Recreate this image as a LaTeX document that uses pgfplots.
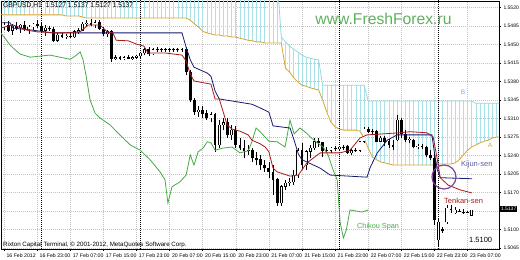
\documentclass[border=0pt]{standalone}
\usepackage{pgfplots}
\pgfplotsset{compat=1.18}
\usepackage{pgfplotstable}
\usepackage{fontspec}
\setmainfont{Liberation Sans}
\definecolor{tenkan}{RGB}{170,25,25}
\definecolor{kijun}{RGB}{25,25,110}
\definecolor{spanA}{RGB}{215,165,45}
\definecolor{spanB}{RGB}{150,215,225}
\definecolor{hatch}{RGB}{170,225,232}
\definecolor{chikou}{RGB}{70,170,70}
\definecolor{gridc}{RGB}{195,195,195}
\definecolor{ffgreen}{RGB}{95,175,95}
\definecolor{circ}{RGB}{125,65,155}

\pgfplotstableread{
i A B
-1 1.5508 1.5572
0 1.5506 1.5572
1 1.5506 1.5572
2 1.5506 1.5572
3 1.5506 1.5572
4 1.5506 1.5572
5 1.5506 1.5572
6 1.5506 1.5572
7 1.5506 1.5572
8 1.5506 1.5572
9 1.5506 1.5572
10 1.5506 1.5572
11 1.5506 1.5572
12 1.5506 1.5572
13 1.5506 1.5572
14 1.5506 1.5572
15 1.5504 1.5572
16 1.5504 1.5572
17 1.5504 1.5572
18 1.5504 1.5572
19 1.5502 1.5572
20 1.5500 1.5572
21 1.5500 1.5572
22 1.5500 1.5572
23 1.5500 1.5572
24 1.5500 1.5572
25 1.5500 1.5572
26 1.5500 1.5572
27 1.5500 1.5572
28 1.5500 1.5572
29 1.5500 1.5572
30 1.5500 1.5572
31 1.5500 1.5572
32 1.5500 1.5572
33 1.5500 1.5572
34 1.5500 1.5572
35 1.5500 1.5572
36 1.5500 1.5572
37 1.5500 1.5572
38 1.5500 1.5572
39 1.5500 1.5572
40 1.5500 1.5572
41 1.5500 1.5572
42 1.5500 1.5572
43 1.5500 1.5572
44 1.5500 1.5572
45 1.5496 1.5572
46 1.5489 1.5572
47 1.5483 1.5572
48 1.5475 1.5572
49 1.5472 1.5572
50 1.5470 1.5572
51 1.5468 1.5572
52 1.5468 1.5572
53 1.5466 1.5572
54 1.5466 1.5572
55 1.5464 1.5572
56 1.5464 1.5572
57 1.5462 1.5572
58 1.5460 1.5572
59 1.5458 1.5572
60 1.5457 1.5572
61 1.5455 1.5572
62 1.5455 1.5572
63 1.5453 1.5572
64 1.5453 1.5572
65 1.5453 1.5572
66 1.5453 1.5572
67 1.5453 1.5464
68 1.5405 1.5455
69 1.5398 1.5447
70 1.5387 1.5441
71 1.5379 1.5436
72 1.5373 1.5430
73 1.5371 1.5426
74 1.5368 1.5424
75 1.5366 1.5422
76 1.5364 1.5421
77 1.5345 1.5373
78 1.5322 1.5373
79 1.5303 1.5373
80 1.5294 1.5373
81 1.5290 1.5373
82 1.5288 1.5373
83 1.5288 1.5373
84 1.5288 1.5373
85 1.5288 1.5373
86 1.5286 1.5373
87 1.5273 1.5373
88 1.5254 1.5343
89 1.5237 1.5343
90 1.5232 1.5343
91 1.5228 1.5343
92 1.5226 1.5343
93 1.5224 1.5343
94 1.5222 1.5343
95 1.5222 1.5343
96 1.5222 1.5343
97 1.5222 1.5343
98 1.5222 1.5343
99 1.5222 1.5343
100 1.5222 1.5343
101 1.5222 1.5343
102 1.5222 1.5343
103 1.5222 1.5343
104 1.5222 1.5343
105 1.5224 1.5343
106 1.5224 1.5343
107 1.5224 1.5343
108 1.5224 1.5343
109 1.5226 1.5343
110 1.5232 1.5343
111 1.5241 1.5343
112 1.5250 1.5343
113 1.5256 1.5343
114 1.5260 1.5339
115 1.5264 1.5339
116 1.5267 1.5339
117 1.5269 1.5339
118 1.5273 1.5339
119 1.5275 1.5339
120 1.5275 1.5339
}\cloud

\pgfplotstableread{
i o h l c
0 1.5483 1.5492 1.5477 1.5487
1 1.5487 1.5494 1.5474 1.5477
2 1.5477 1.5489 1.5468 1.5485
3 1.5485 1.5492 1.5477 1.5481
4 1.5481 1.5489 1.5472 1.5487
5 1.5487 1.5494 1.5475 1.5479
6 1.5479 1.5487 1.5470 1.5483
7 1.5483 1.5491 1.5477 1.5489
8 1.5489 1.5496 1.5481 1.5485
9 1.5485 1.5492 1.5474 1.5477
10 1.5477 1.5487 1.5466 1.5481
11 1.5481 1.5485 1.5475 1.5479
12 1.5479 1.5483 1.5455 1.5458
13 1.5458 1.5472 1.5455 1.5468
14 1.5468 1.5472 1.5462 1.5464
15 1.5464 1.5470 1.5460 1.5466
16 1.5466 1.5472 1.5462 1.5464
17 1.5464 1.5477 1.5462 1.5474
18 1.5474 1.5481 1.5470 1.5477
19 1.5477 1.5492 1.5475 1.5489
20 1.5489 1.5496 1.5483 1.5491
21 1.5491 1.5498 1.5485 1.5487
22 1.5487 1.5496 1.5481 1.5492
23 1.5492 1.5496 1.5477 1.5479
24 1.5479 1.5483 1.5466 1.5470
25 1.5470 1.5477 1.5464 1.5474
26 1.5474 1.5477 1.5417 1.5424
27 1.5424 1.5430 1.5421 1.5426
28 1.5426 1.5428 1.5421 1.5424
29 1.5424 1.5428 1.5421 1.5426
30 1.5426 1.5430 1.5422 1.5424
31 1.5424 1.5428 1.5421 1.5426
32 1.5426 1.5430 1.5422 1.5428
33 1.5428 1.5436 1.5424 1.5434
34 1.5434 1.5443 1.5430 1.5440
35 1.5440 1.5445 1.5428 1.5432
36 1.5432 1.5443 1.5430 1.5441
37 1.5441 1.5445 1.5436 1.5440
38 1.5440 1.5443 1.5436 1.5440
39 1.5440 1.5443 1.5436 1.5440
40 1.5440 1.5443 1.5436 1.5440
41 1.5440 1.5443 1.5436 1.5440
42 1.5440 1.5443 1.5436 1.5440
43 1.5440 1.5443 1.5436 1.5440
44 1.5440 1.5445 1.5392 1.5398
45 1.5398 1.5402 1.5341 1.5345
46 1.5345 1.5349 1.5317 1.5322
47 1.5322 1.5334 1.5313 1.5326
48 1.5326 1.5334 1.5311 1.5319
49 1.5319 1.5326 1.5307 1.5311
50 1.5311 1.5322 1.5303 1.5317
51 1.5317 1.5320 1.5247 1.5260
52 1.5260 1.5307 1.5254 1.5298
53 1.5298 1.5311 1.5288 1.5303
54 1.5303 1.5311 1.5273 1.5279
55 1.5279 1.5298 1.5269 1.5288
56 1.5288 1.5296 1.5254 1.5260
57 1.5260 1.5273 1.5250 1.5254
58 1.5254 1.5269 1.5235 1.5250
59 1.5250 1.5260 1.5241 1.5249
60 1.5249 1.5254 1.5228 1.5235
61 1.5235 1.5247 1.5222 1.5232
62 1.5232 1.5241 1.5213 1.5222
63 1.5222 1.5232 1.5209 1.5216
64 1.5216 1.5228 1.5198 1.5209
65 1.5209 1.5222 1.5166 1.5194
66 1.5194 1.5198 1.5145 1.5150
67 1.5150 1.5184 1.5145 1.5181
68 1.5181 1.5194 1.5175 1.5188
69 1.5188 1.5198 1.5182 1.5190
70 1.5190 1.5213 1.5184 1.5203
71 1.5203 1.5254 1.5198 1.5250
72 1.5250 1.5264 1.5213 1.5222
73 1.5222 1.5250 1.5213 1.5247
74 1.5247 1.5260 1.5235 1.5254
75 1.5254 1.5273 1.5250 1.5266
76 1.5266 1.5273 1.5256 1.5264
77 1.5264 1.5266 1.5237 1.5250
78 1.5250 1.5256 1.5245 1.5250
79 1.5249 1.5256 1.5245 1.5254
80 1.5254 1.5258 1.5249 1.5252
81 1.5252 1.5258 1.5249 1.5256
82 1.5256 1.5260 1.5250 1.5254
83 1.5258 1.5260 1.5243 1.5245
84 1.5245 1.5254 1.5241 1.5250
85 1.5250 1.5254 1.5247 1.5249
86 1.5250 1.5267 1.5247 1.5266
87 1.5266 1.5294 1.5264 1.5290
88 1.5290 1.5294 1.5283 1.5285
89 1.5285 1.5290 1.5281 1.5286
90 1.5286 1.5288 1.5266 1.5267
91 1.5267 1.5277 1.5267 1.5273
92 1.5273 1.5277 1.5258 1.5266
93 1.5266 1.5271 1.5254 1.5260
94 1.5260 1.5269 1.5250 1.5256
95 1.5269 1.5317 1.5267 1.5307
96 1.5307 1.5311 1.5273 1.5281
97 1.5281 1.5288 1.5266 1.5269
98 1.5269 1.5275 1.5264 1.5271
99 1.5269 1.5271 1.5254 1.5256
100 1.5256 1.5262 1.5252 1.5258
101 1.5258 1.5262 1.5252 1.5256
102 1.5256 1.5258 1.5237 1.5241
103 1.5241 1.5250 1.5232 1.5235
104 1.5235 1.5247 1.5109 1.5118
105 1.5080 1.5120 1.5067 1.5114
106 1.5101 1.5105 1.5094 1.5097
107 1.5114 1.5147 1.5111 1.5141
108 1.5139 1.5147 1.5131 1.5137
109 1.5131 1.5143 1.5130 1.5137
110 1.5135 1.5139 1.5133 1.5135
111 1.5133 1.5139 1.5130 1.5133
112 1.5133 1.5135 1.5131 1.5133
113 1.5127 1.5137 1.5127 1.5137
}\candles

\begin{document}
\begin{tikzpicture}[x=1pt,y=1pt]
\useasboundingbox (0,0) rectangle (520,260);
\begin{axis}[
  at={(1pt,11pt)}, anchor=south west,
  scale only axis, width=498pt, height=248pt,
  xmin=-0.73, xmax=119.6, ymin=1.50631, ymax=1.55323,
  axis line style={black, line width=0.6pt},
  clip=true, no markers,
  xtick={0,8,...,112},
  xticklabels={16 Feb 2012,16 Feb 23:00,17 Feb 07:00,17 Feb 15:00,17 Feb 23:00,20 Feb 07:00,20 Feb 15:00,20 Feb 23:00,21 Feb 07:00,21 Feb 15:00,21 Feb 23:00,22 Feb 07:00,22 Feb 15:00,22 Feb 23:00,23 Feb 07:00},
  ytick={1.5065,1.5100,1.5135,1.5170,1.5205,1.5240,1.5275,1.5310,1.5345,1.5380,1.5415,1.5450,1.5485,1.5520},
  yticklabels={1.5065,1.5100,{},1.5170,1.5205,1.5240,1.5275,1.5310,1.5345,1.5380,1.5415,1.5450,1.5485,1.5520},
  xtick pos=bottom, ytick pos=right, yticklabel pos=right,
  tick align=outside, major tick length=2pt,
  tick style={black, line width=0.4pt},
  xticklabel style={anchor=north west, xshift=-1pt, yshift=0.5pt, font=\fontsize{5.2}{5.2}\selectfont},
  yticklabel style={anchor=west, xshift=-1pt, font=\fontsize{5}{5}\selectfont},
  grid=major,
  major grid style={gridc, dash pattern=on 0.8pt off 1.2pt, line width=0.4pt},
]
% cloud hatch
\addplot[draw=none, mark=none, forget plot,
  error bars/.cd, y dir=plus, y explicit, error mark=none,
  error bar style={draw=hatch, line width=0.6pt}]
  table[x=i, y=A, y error plus expr=\thisrow{B}-\thisrow{A}] {\cloud};
\addplot[spanA, line width=0.8pt] table[x=i, y=A] {\cloud};
\addplot[spanB, line width=0.8pt] table[x=i, y=B] {\cloud};
% separators
\addplot[black, dash pattern=on 0.8pt off 1.2pt, line width=0.5pt] coordinates {(9,1.50) (9,1.56)};
\addplot[black, dash pattern=on 0.8pt off 1.2pt, line width=0.5pt] coordinates {(33,1.50) (33,1.56)};
\addplot[black, dash pattern=on 0.8pt off 1.2pt, line width=0.5pt] coordinates {(81,1.50) (81,1.56)};
\addplot[black, dash pattern=on 0.8pt off 1.2pt, line width=0.5pt] coordinates {(105,1.50) (105,1.56)};
% candles: wicks
\addplot[draw=none, mark=none, forget plot,
  error bars/.cd, y dir=plus, y explicit, error mark=none,
  error bar style={draw=black, line width=0.7pt}]
  table[x=i, y=l, y error plus expr=\thisrow{h}-\thisrow{l}] {\candles};
% bodies (black outline)
\addplot[draw=none, mark=none, forget plot,
  error bars/.cd, y dir=plus, y explicit, error mark=none,
  error bar style={draw=black, line width=2.8pt}]
  table[x=i, y expr={min(\thisrow{o},\thisrow{c})-0.00006}, y error plus expr={abs(\thisrow{o}-\thisrow{c})+0.00012}] {\candles};
% white interior of bullish candles
\addplot[draw=none, mark=none, forget plot,
  error bars/.cd, y dir=plus, y explicit, error mark=none,
  error bar style={draw=white, line width=1.3pt}]
  table[x=i, y expr={\thisrow{o}+0.00006}, y error plus expr={max(\thisrow{c}-\thisrow{o}-0.00012,0)}] {\candles};
% chikou
\addplot[chikou, line width=0.8pt] coordinates {
(-1,1.5474) (0.24,1.5462) (1.45,1.5449) (2.66,1.5440) (3.87,1.5432) (6.28,1.5426) (8.7,1.5428)
(11.1,1.5430) (13.5,1.5426) (16,1.5422) (17.2,1.5428) (18.4,1.5436) (19.1,1.5421) (19.8,1.5392)
(20.8,1.5345) (22,1.5320) (23.2,1.5311) (25.6,1.5298) (28,1.5279) (30.5,1.5260) (32.9,1.5250)
(35.3,1.5232) (37.7,1.5209) (38.9,1.5194) (39.6,1.5150) (40.6,1.5181) (42.5,1.5190) (44,1.5203)
(45,1.5241) (45.9,1.5222) (46.9,1.5247) (48.1,1.5254) (49.1,1.5266) (50,1.5264) (51,1.5250)
(52.9,1.5254) (55.1,1.5256) (57,1.5245) (59,1.5249) (59.9,1.5266) (60.9,1.5292) (61.9,1.5285)
(64,1.5267) (66,1.5266) (67.9,1.5256) (69.1,1.5307) (70.1,1.5281) (71.5,1.5292) (73,1.5283)
(74,1.5275) (75.4,1.5266) (77.1,1.5256) (78.3,1.5241) (79.5,1.5213) (80.5,1.5194) (81.2,1.5114)
(82,1.5084) (82.7,1.5099) (83.6,1.5137) (85.1,1.5135) (86.5,1.5133) (88,1.5137)};
% kijun
\addplot[kijun, line width=0.8pt] coordinates {
(-1,1.5491) (1.45,1.5491) (2.2,1.5481) (7,1.5477) (11.8,1.5472) (43,1.5472) (44,1.5445)
(45,1.5421) (45.9,1.5407) (49.1,1.5396) (50,1.5390) (51,1.5362) (52,1.5347) (59.9,1.5337)
(61.9,1.5330) (64,1.5322) (65,1.5296) (69.1,1.5292) (70.1,1.5269) (71.1,1.5243) (72,1.5232)
(76.4,1.5216) (78.8,1.5203) (87.7,1.5199) (88.5,1.5218) (90.2,1.5245) (92.6,1.5269) (95,1.5279)
(103.4,1.5279) (103.9,1.5250) (104.7,1.5213) (105.4,1.5198) (113.1,1.5196)};
% tenkan
\addplot[tenkan, line width=0.8pt] coordinates {
(-1,1.5481) (2.2,1.5487) (5.6,1.5477) (8,1.5474) (11.8,1.5472) (14.3,1.5472) (18.4,1.5474)
(20.3,1.5487) (23.2,1.5487) (24.9,1.5474) (26.3,1.5472) (27.1,1.5458) (30,1.5457) (31.9,1.5451)
(33.8,1.5447) (34.8,1.5434) (38.9,1.5434) (43,1.5430) (44,1.5419) (45,1.5394) (45.9,1.5381)
(50,1.5375) (51,1.5347) (52,1.5347) (52.9,1.5324) (53.9,1.5298) (55.1,1.5290) (57,1.5286)
(59,1.5279) (59.9,1.5269) (61.9,1.5262) (63.1,1.5256) (64,1.5247) (65,1.5216) (66,1.5209)
(69.1,1.5201) (71.1,1.5203) (73.2,1.5226) (76.4,1.5245) (81.2,1.5245) (83.6,1.5250) (86,1.5273)
(87.7,1.5279) (95.7,1.5283) (98.1,1.5285) (102.2,1.5283) (103.7,1.5275) (104.7,1.5232)
(105.4,1.5198) (107.3,1.5184) (110.2,1.5175) (113.1,1.5169)};
\end{axis}
% annotations
\node[anchor=west, inner sep=0, font=\fontsize{6.7}{6.7}\selectfont] at (3,254.5) {GBPUSD,H1\ \ 1.5127 1.5137 1.5127 1.5137};
\node[anchor=base, inner sep=0, text=ffgreen, font=\fontsize{15.7}{16}\selectfont] at (383.5,235) {www.FreshForex.ru};
\node[anchor=center, inner sep=0, text=spanB!80!blue, font=\fontsize{6.5}{6.5}\selectfont] at (463,168) {B};
\node[anchor=center, inner sep=0, text=spanA, font=\fontsize{6.5}{6.5}\selectfont] at (490,115) {A};
\node[anchor=west, inner sep=0, text=kijun!70!white, font=\fontsize{7.5}{7.5}\selectfont] at (461,95) {Kijun-sen};
\node[anchor=west, inner sep=0, text=tenkan, font=\fontsize{7.5}{7.5}\selectfont] at (444,59) {Tenkan-sen};
\node[anchor=west, inner sep=0, text=chikou, font=\fontsize{7.3}{7.3}\selectfont] at (357,33) {Chikou Span};
\node[anchor=west, inner sep=0, font=\fontsize{7.5}{7.5}\selectfont] at (469,20) {1.5100};
\node[anchor=west, inner sep=0, font=\fontsize{6.2}{6.2}\selectfont] at (3,15.5) {Rixton Capital Terminal, © 2001-2012, MetaQuotes Software Corp.};
\draw[circ, line width=1.2pt] (444,83) circle [radius=12];
\node[anchor=west, fill=black, text=white, inner sep=0.8pt, font=\fontsize{5}{5}\selectfont] at (500,51) {1.5137};
\end{tikzpicture}
\end{document}
